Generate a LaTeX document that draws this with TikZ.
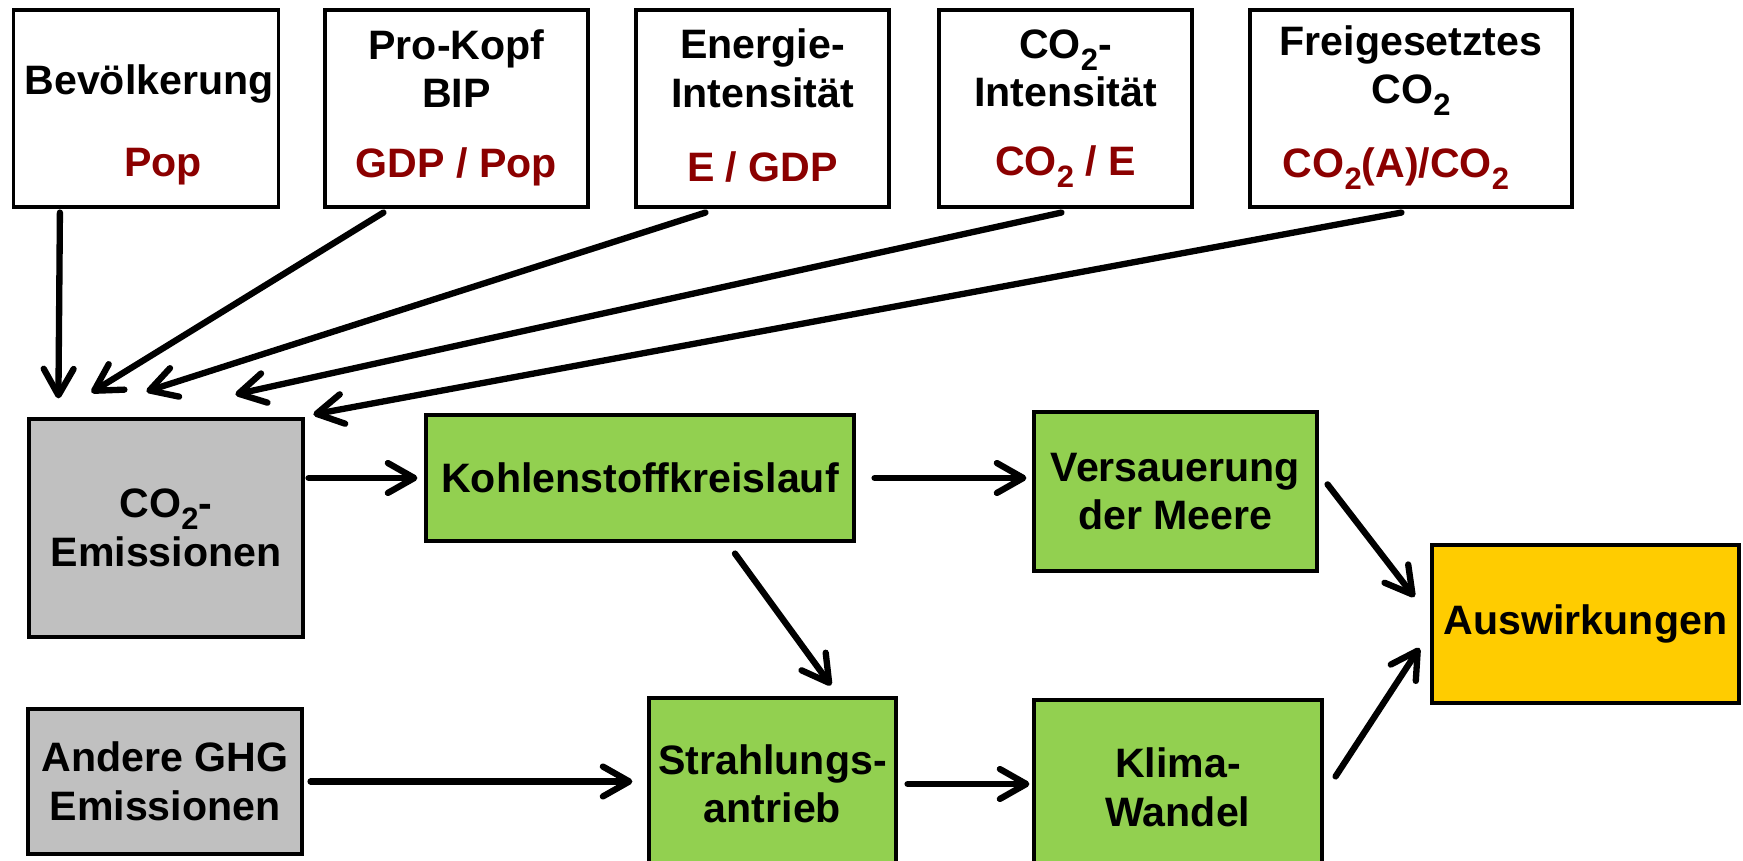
\documentclass[tikz,border=0pt]{standalone}
\usepackage{fontspec}
\setmainfont{Liberation Sans}
\usetikzlibrary{arrows.meta,positioning,calc}

\definecolor{emisgray}{HTML}{C0C0C0}
\definecolor{flowgreen}{HTML}{92D050}
\definecolor{impactyellow}{HTML}{FFCC00}
\definecolor{formred}{HTML}{8B0000}
\newcommand{\cotwo}{CO\raisebox{-0.55ex}{\fontsize{8.8}{8.8}\selectfont 2}}

\begin{document}
\begin{tikzpicture}[
    font=\bfseries\fontsize{11.7}{13.8}\selectfont,
    factor/.style={rectangle, draw=black, line width=0.9pt, minimum height=1.97cm},
    flowbox/.style={rectangle, draw=black, line width=0.9pt, align=center, inner sep=0pt},
    title/.style={align=center},
    formula/.style={text=formred},
    link/.style={-{Straight Barb[length=7.5pt, width=8.5pt, round]}, line width=1.8pt, line cap=round}
  ]
  \useasboundingbox (0,0) rectangle (17.43,-8.61);

  % the five factors
  \node[factor, minimum width=2.65cm] (pop) at (1.46,-1.085) {};
  \node[factor, minimum width=2.63cm] (gdp) at (4.565,-1.085) {};
  \node[factor, minimum width=2.53cm] (energy) at (7.625,-1.085) {};
  \node[factor, minimum width=2.53cm] (carbon) at (10.655,-1.085) {};
  \node[factor, minimum width=3.22cm] (release) at (14.11,-1.085) {};

  \node[title] (popname) at ($(pop.north)+(0.03,-0.76)$) {Bevölkerung};
  \node[title] (gdpname) at ($(gdp.north)+(0,-0.60)$) {Pro-Kopf\\BIP};
  \node[title] (energyname) at ($(energy.north)+(0,-0.60)$) {Energie-\\Intensität};
  \node[title] (carbonname) at ($(carbon.north)+(0,-0.60)$) {\cotwo-\\Intensität};
  \node[title] (releasename) at ($(release.north)+(0,-0.62)$) {Freigesetztes\\\cotwo};

  \node[formula] (popform) at ($(pop.south)+(0.17,0.42)$) {Pop};
  \node[formula] (gdpform) at ($(gdp.south)+(0,0.42)$) {GDP / Pop};
  \node[formula] (energyform) at ($(energy.south)+(0,0.42)$) {E / GDP};
  \node[formula] (carbonform) at ($(carbon.south)+(0,0.42)$) {\cotwo{} / E};
  \node[formula] (releaseform) at ($(release.south)+(-0.15,0.40)$) {\cotwo(A)/\cotwo};

  % the chain
  \node[flowbox, fill=emisgray, minimum width=2.74cm, minimum height=2.18cm] (emis) at (1.66,-5.28) {\cotwo-\\Emissionen};
  \node[flowbox, fill=flowgreen, minimum width=4.28cm, minimum height=1.26cm] (cycle) at (6.40,-4.78) {Kohlenstoffkreislauf};
  \node[flowbox, fill=flowgreen, minimum width=2.83cm, minimum height=1.59cm] (acid) at (11.755,-4.915) {Versauerung\\der Meere};
  \node[flowbox, fill=impactyellow, minimum width=3.07cm, minimum height=1.58cm] (impact) at (15.855,-6.24) {Auswirkungen};
  \node[flowbox, fill=emisgray, minimum width=2.74cm, minimum height=1.45cm] (ghg) at (1.65,-7.815) {Andere GHG\\Emissionen};
  \node[flowbox, fill=flowgreen, minimum width=2.47cm, minimum height=1.72cm] (forcing) at (7.725,-7.84) {Strahlungs-\\antrieb};
  \node[flowbox, fill=flowgreen, minimum width=2.88cm, minimum height=1.75cm] (klima) at (11.78,-7.875) {Klima-\\Wandel};

  % factors into the emissions
  \draw[link] ([xshift=0.48cm, yshift=-0.04cm]pop.south west) -- ([xshift=0.31cm, yshift=0.19cm]emis.north west);
  \draw[link] ([xshift=0.60cm, yshift=-0.04cm]gdp.south west) -- ([xshift=0.64cm, yshift=0.25cm]emis.north west);
  \draw[link] ([xshift=0.71cm, yshift=-0.04cm]energy.south west) -- ([xshift=1.19cm, yshift=0.26cm]emis.north west);
  \draw[link] ([xshift=1.24cm, yshift=-0.04cm]carbon.south west) -- ([xshift=2.08cm, yshift=0.23cm]emis.north west);
  \draw[link] ([xshift=1.53cm, yshift=-0.04cm]release.south west) -- ([xshift=2.86cm, yshift=0.03cm]emis.north west);

  \draw[link, shorten <=0.04cm, shorten >=0.07cm] (emis.east |- cycle.west) -- (cycle.west);
  \draw[link, shorten <=0.19cm, shorten >=0.06cm] (cycle.east) -- (cycle.east -| acid.west);
  \draw[link] ([xshift=0.95cm, yshift=-0.11cm]cycle.south) -- ([xshift=0.585cm, yshift=0.11cm]forcing.north);
  \draw[link, shorten <=0.07cm, shorten >=0.15cm] (ghg.east) -- (ghg.east -| forcing.west);
  \draw[link, shorten <=0.10cm, shorten >=0.03cm] (forcing.east) -- (forcing.east -| klima.west);
  \draw[link] ([xshift=0.09cm, yshift=-0.74cm]acid.north east) -- ([xshift=-0.16cm, yshift=0.27cm]impact.west);
  \draw[link] ([xshift=0.12cm, yshift=-0.78cm]klima.north east) -- ([xshift=-0.11cm, yshift=-0.24cm]impact.west);
\end{tikzpicture}
\end{document}
